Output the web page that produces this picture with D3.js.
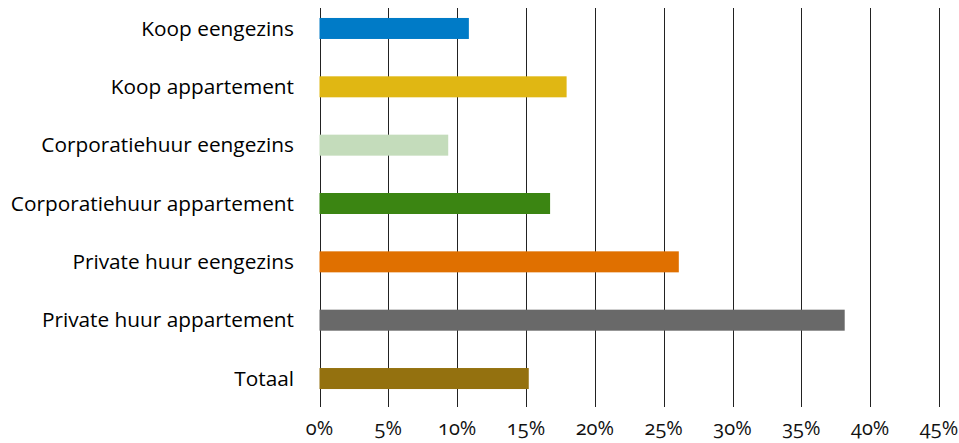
<!DOCTYPE html>
<html lang="nl">
  <head>
    <meta charset="utf-8" />
    <script src="https://d3js.org/d3.v7.min.js"></script>
    <style type="text/css">
      body {
        margin: 0;
        background: #ffffff;
      }
      svg#chart {
        display: block;
      }
      .label {
        font-family: "Open Sans", "Noto Sans", sans-serif;
        font-size: 20.8px;
        fill: #000;
      }
      .tick-label {
        font-family: "Open Sans", "Noto Sans", sans-serif;
        font-size: 20px;
        font-variant-numeric: oldstyle-nums;
        fill: #111;
      }
    </style>
  </head>

  <body>
    <svg id="chart" width="959" height="443"></svg>

    <script>
      let categories = [
        "Koop eengezins",
        "Koop appartement",
        "Corporatiehuur eengezins",
        "Corporatiehuur appartement",
        "Private huur eengezins",
        "Private huur appartement",
        "Totaal",
      ];
      let values = [10.85, 17.95, 9.35, 16.75, 26.1, 38.15, 15.2];
      let colors = [
        "#007bc7",
        "#e0b713",
        "#c4dcbb",
        "#3b8512",
        "#e07000",
        "#696969",
        "#94710f",
      ];
      let ticks = [0, 5, 10, 15, 20, 25, 30, 35, 40, 45];

      let svg = d3.select("#chart");

      let x = d3.scaleLinear([0, 45], [319.5, 939]);
      let y = d3
        .scaleBand(categories, [-0.7, 407.7])
        .paddingInner(0.64)
        .paddingOuter(0.32);

      // gridlines
      svg
        .append("g")
        .selectAll("line")
        .data(ticks)
        .enter()
        .append("line")
        .attr("x1", (d) => Math.round(x(d)) + 0.5)
        .attr("x2", (d) => Math.round(x(d)) + 0.5)
        .attr("y1", 8)
        .attr("y2", 407)
        .attr("stroke", "#222")
        .attr("stroke-width", 1);

      // bars
      svg
        .append("g")
        .selectAll("rect")
        .data(values)
        .enter()
        .append("rect")
        .attr("x", x(0))
        .attr("y", (d, i) => y(categories[i]))
        .attr("width", (d) => x(d) - x(0))
        .attr("height", y.bandwidth())
        .attr("fill", (d, i) => colors[i]);

      // category labels
      svg
        .append("g")
        .selectAll("text")
        .data(categories)
        .enter()
        .append("text")
        .attr("class", "label")
        .attr("x", 294)
        .attr("y", (d) => y(d) + y.bandwidth() / 2)
        .attr("dy", "0.35em")
        .attr("text-anchor", "end")
        .text((d) => d);

      // x tick labels
      svg
        .append("g")
        .selectAll("text")
        .data(ticks)
        .enter()
        .append("text")
        .attr("class", "tick-label")
        .attr("x", (d) => x(d))
        .attr("y", 428)
        .attr("dy", "0.35em")
        .attr("text-anchor", "middle")
        .text((d) => d + "%");
    </script>
  </body>
</html>
